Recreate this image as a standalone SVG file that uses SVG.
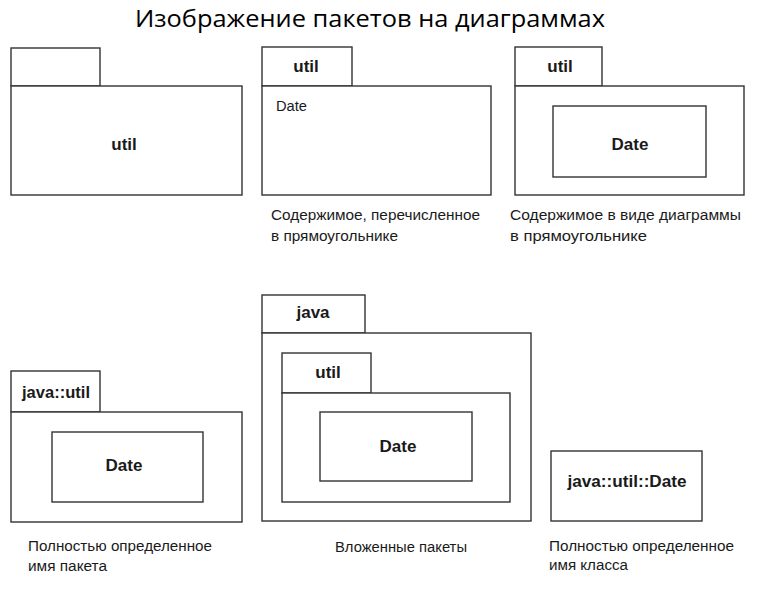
<svg xmlns="http://www.w3.org/2000/svg" width="766" height="594" viewBox="0 0 766 594">
<style>
.b{fill:#fff;stroke:#333;stroke-width:1.4}
.t{font-family:"Liberation Sans",Arial,sans-serif;font-size:17px;font-weight:bold;fill:#1a1a1a;text-anchor:middle}
.r{font-family:"Liberation Sans",Arial,sans-serif;font-size:15.5px;fill:#1a1a1a}
.h{font-family:"Open Sans","Noto Sans",sans-serif;font-size:24px;fill:#000}
</style>
<rect width="766" height="594" fill="#fff"/>
<text class="h" x="135" y="27" textLength="470" lengthAdjust="spacingAndGlyphs">Изображение пакетов на диаграммах</text>

<g id="pkg1">
<rect class="b" x="11" y="48" width="89" height="38"/>
<rect class="b" x="11" y="86" width="231" height="109"/>
<text class="t" x="124" y="150">util</text>
</g>

<g id="pkg2">
<rect class="b" x="262" y="47" width="90" height="39"/>
<rect class="b" x="262" y="86" width="229" height="109"/>
<text class="t" x="306" y="72">util</text>
<text class="r" x="276" y="111" textLength="31" lengthAdjust="spacingAndGlyphs">Date</text>
<text class="r" x="271" y="220" textLength="209" lengthAdjust="spacingAndGlyphs">Содержимое, перечисленное</text>
<text class="r" x="271" y="241" textLength="127" lengthAdjust="spacingAndGlyphs">в прямоугольнике</text>
</g>

<g id="pkg3">
<rect class="b" x="515" y="47" width="87" height="39"/>
<rect class="b" x="515" y="86" width="229" height="109"/>
<text class="t" x="560" y="72">util</text>
<rect class="b" x="553" y="106" width="153" height="71"/>
<text class="t" x="630" y="150">Date</text>
<text class="r" x="510" y="220" textLength="231" lengthAdjust="spacingAndGlyphs">Содержимое в виде диаграммы</text>
<text class="r" x="510" y="241" textLength="137" lengthAdjust="spacingAndGlyphs">в прямоугольнике</text>
</g>

<g id="pkg4">
<rect class="b" x="11" y="371" width="89" height="41"/>
<rect class="b" x="11" y="412" width="231" height="110"/>
<text class="t" x="56" y="398" textLength="68" lengthAdjust="spacingAndGlyphs">java::util</text>
<rect class="b" x="52" y="432" width="151" height="70"/>
<text class="t" x="124" y="471">Date</text>
<text class="r" x="28" y="551" textLength="184" lengthAdjust="spacingAndGlyphs">Полностью определенное</text>
<text class="r" x="28" y="571" textLength="79" lengthAdjust="spacingAndGlyphs">имя пакета</text>
</g>

<g id="pkg5">
<rect class="b" x="262" y="295" width="103" height="38"/>
<rect class="b" x="262" y="333" width="269" height="188"/>
<text class="t" x="313" y="318">java</text>
<rect class="b" x="282" y="353" width="89" height="40"/>
<rect class="b" x="282" y="393" width="228" height="109"/>
<text class="t" x="328" y="378">util</text>
<rect class="b" x="320" y="412" width="152" height="69"/>
<text class="t" x="398" y="452">Date</text>
<text class="r" x="335" y="552" textLength="132" lengthAdjust="spacingAndGlyphs">Вложенные пакеты</text>
</g>

<g id="cls">
<rect class="b" x="551" y="451" width="151" height="70"/>
<text class="t" x="627" y="487" textLength="119" lengthAdjust="spacingAndGlyphs">java::util::Date</text>
<text class="r" x="549" y="551" textLength="185" lengthAdjust="spacingAndGlyphs">Полностью определенное</text>
<text class="r" x="549" y="570" textLength="79" lengthAdjust="spacingAndGlyphs">имя класса</text>
</g>

<g id="connectors"></g>
</svg>
